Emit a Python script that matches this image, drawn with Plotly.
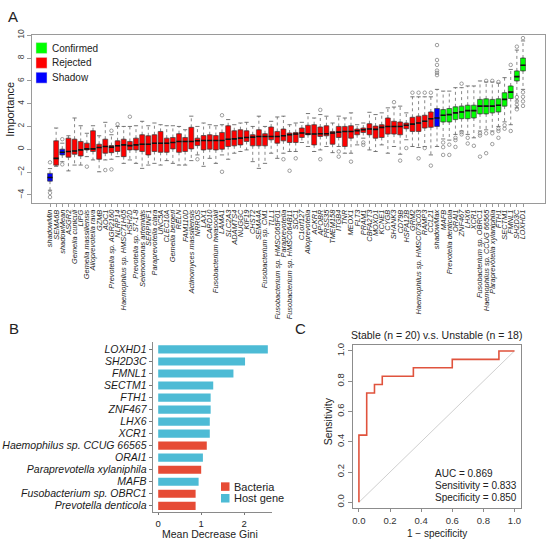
import plotly.graph_objects as go

# ---------- Panel A: Boruta importance boxplots ----------
features = [
    "shadowMin", "SEMA6B", "shadowMean", "ASGR2", "Gemella cuniculi", "LIPG",
    "Gemella massiliensis", "Alloprevotella rava", "GZMB", "AOC1",
    "Prevotella sp. AGR2160", "NLRP14", "Haemophilus sp. HMSC71H05", "HSH2D",
    "Prevotella sp. S7-1-8", "Selenomonas artemidis", "SERPINF1",
    "Paraprevotella clara", "UNC5A", "CLEC10A", "Gemella bergeri", "RELN",
    "FAM110D", "Actinomyces massiliensis", "NRROS", "LAX1", "CARD10",
    "Fusobacterium hwasookii", "LAMA1", "SLC2A3", "ADAMTS4", "NUGGC", "KIF19",
    "CHST2", "SEMA4A", "Fusobacterium sp. CM1", "TLL1",
    "Fusobacterium sp. HMSC065F01", "Paraprevotella",
    "Fusobacterium sp. HMSC064B11", "SDC1", "C1orf127", "Alloprevotella",
    "ACKR1", "APOBR", "PRSS35", "TMEM158", "ITGB4", "TNR", "MEOX1", "FLT3",
    "PRAM1", "CBFA2T3", "MOXD1", "KCNE1", "CYGB", "SHANK3", "CD79B", "HSPA12B",
    "GRM2", "Haemophilus sp. HMSC073C03", "RAMP3", "CCL21", "shadowMax", "MAFB",
    "Prevotella denticola", "ORAI1", "ZNF467", "LHX6", "XCR1",
    "Fusobacterium sp. OBRC1", "Haemophilus sp. CCUG 66565",
    "Paraprevotella xylaniphila", "FTH1", "SECTM1", "FMNL1", "SH2D3C", "LOXHD1",
]
q1 = [-2.8, -1.4, -0.5, -0.7, -0.44, -0.59, -0.06, -0.2, -0.88, -0.35,
      -0.3, -0.2, -0.65, -0.06, -0.06, -0.2, -0.5, -0.2, -0.27, -0.27,
      0.03, -0.27, -0.2, 0.03, 0.32, -0.06, 0.0, -0.06, 0.0, 0.24,
      0.3, 0.38, 0.68, 0.3, 0.3, 0.3, 0.83, 0.53, 0.74, 0.59,
      0.59, 1.03, 1.27, 0.38, 1.12, 1.18, 0.44, 1.03, 0.24, 0.97,
      1.27, 1.47, 1.27, 0.97, 1.03, 1.33, 1.33, 1.27, 1.8, 1.56,
      1.56, 1.86, 1.92, 2.0, 2.39, 2.39, 2.6, 2.68, 2.68, 2.74,
      3.1, 3.1, 3.19, 3.27, 3.78, 4.45, 5.99, 6.87]
median = [-2.48, -0.8, -0.27, -0.2, -0.15, -0.06, 0.03, 0.03, 0.15, 0.24,
          0.18, 0.3, 0.38, 0.32, 0.38, 0.44, 0.44, 0.53, 0.53, 0.53,
          0.59, 0.68, 0.68, 0.68, 0.74, 0.77, 0.77, 0.77, 0.77, 0.88,
          0.91, 0.97, 1.03, 1.06, 1.12, 1.12, 1.12, 1.12, 1.18, 1.27,
          1.33, 1.42, 1.33, 1.33, 1.36, 1.36, 1.42, 1.5, 1.56, 1.56,
          1.62, 1.71, 1.77, 1.74, 1.92, 2.0, 2.0, 2.0, 2.1, 2.2,
          2.3, 2.45, 2.68, 2.74, 2.98, 3.04, 3.19, 3.27, 3.39, 3.39,
          3.78, 3.78, 3.78, 3.86, 4.37, 5.01, 6.37, 7.37]
q3 = [-2.12, 0.74, 0.0, 0.97, 0.88, 0.68, 0.53, 1.62, 0.44, 0.88,
      0.32, 0.74, 0.88, 0.68, 0.97, 1.27, 1.18, 1.27, 1.56, 0.97,
      1.03, 1.36, 1.03, 1.92, 0.97, 1.2, 1.27, 1.2, 1.47, 2.06,
      1.62, 1.71, 1.62, 1.27, 1.71, 1.36, 1.95, 1.56, 1.77, 1.42,
      1.47, 1.86, 2.1, 2.15, 1.95, 2.06, 1.56, 2.0, 2.0, 2.06,
      1.77, 1.86, 2.24, 2.03, 2.15, 2.74, 2.45, 2.39, 2.3, 2.8,
      2.9, 2.98, 3.27, 3.57, 3.48, 3.57, 3.72, 3.78, 3.86, 3.86,
      4.37, 4.42, 4.37, 4.42, 4.96, 5.55, 6.87, 8.0]
whisk_lo = [-3.6, -1.5, -1.1, -1.9, -1.39, -1.39, -0.65, -0.94, -1.98, -0.94,
            -0.88, -0.65, -1.24, -0.94, -1.24, -1.68, -1.39, -1.24, -1.39, -1.0,
            -1.24, -1.39, -1.39, -1.0, -0.5, -1.5, -0.8, -1.24, -0.5, -0.88,
            -0.35, -0.2, -0.06, -1.09, -1.68, -1.24, -0.35, -0.8, -0.35, -0.2,
            -0.2, 0.59, 0.24, -0.2, -0.06, 0.24, -0.3, 0.24, -0.35, -0.35,
            0.38, 0.97, -0.06, -0.2, 0.38, -0.35, 0.24, -0.44, 0.83, 0.24,
            0.15, 0.24, -0.5, 0.24, 0.9, 0.8, 1.3, 1.6, 1.3, 1.0,
            1.6, 1.7, 1.6, 2.0, 2.4, 2.15, 3.63, 5.25]
whisk_hi = [-1.7, 1.86, 0.53, 1.18, 2.74, 2.06, 1.4, 2.06, 1.18, 2.36,
            1.27, 2.0, 2.0, 2.0, 2.06, 2.45, 2.06, 2.3, 2.15, 2.06,
            2.06, 2.0, 1.71, 2.9, 2.0, 2.3, 2.15, 2.06, 2.15, 2.6,
            2.15, 2.3, 2.36, 2.0, 2.9, 2.0, 2.45, 2.83, 2.9, 2.15,
            2.3, 2.36, 3.13, 2.74, 3.04, 2.9, 2.3, 2.9, 2.74, 3.19,
            2.15, 2.3, 3.24, 3.04, 3.19, 3.63, 3.7, 3.78, 3.19, 4.6,
            4.6, 4.6, 4.6, 5.25, 5.1, 5.1, 5.4, 5.4, 5.55, 5.55,
            5.99, 5.9, 5.9, 5.8, 6.28, 7.0, 8.7, 9.5]
status = (["Shadow", "Rejected", "Shadow"] + ["Rejected"] * 60
          + ["Shadow"] + ["Confirmed"] * 14)

# outlying points (feature position, importance)
out_pos = [1, 1, 1, 3, 3, 7, 10, 11, 11, 12, 14, 25, 29, 29, 39, 40, 41,
           45, 45, 48, 48, 50, 52, 52, 57, 58, 59, 60, 61, 61, 62, 62, 63, 63,
           64, 64, 64, 64, 64, 64, 65, 65, 65, 66, 66, 67, 67, 67, 68, 68, 68,
           69, 69, 70, 71, 71, 71, 72, 72, 72, 73, 73, 73, 74, 74, 74, 74,
           75, 75, 76, 76, 77, 77, 77, 77, 77, 78, 78, 78, 78, 78]
out_val = [-1.15, -3.83, -4.2, 0.88, -1.33, -1.53, -1.83, 1.62, -1.77, 2.2,
           2.85, -0.88, 2.98, -1.98, -0.88, -1.89, -0.8, 3.45, -0.88, -0.2,
           -0.65, -1.09, 0.59, 0.38, 4.13, -1.0, 0.1, 4.96, 4.96, -0.8, 4.96,
           0.1, 4.96, -1.44, 9.14, 7.83, 7.4, 6.9, 6.7, 6.5, 0.59, 0.18, -0.5,
           0.4, -0.5, 1.0, 0.8, 0.2, 5.75, 1.5, 1.3, 1.0, 0.5, 0.3, 1.2, 1.4,
           -0.65, 6.0, 1.4, -0.35, 6.0, 1.4, 0.45, 5.9, 1.8, 1.6, 1.0, 2.1,
           1.8, 7.4, 1.6, 9.0, 4.57, 4.22, 3.9, 3.5, 9.75, 5.0, 4.6, 4.2, 3.8]

status_colors = {"Confirmed": "#00FF00", "Rejected": "#FF0000", "Shadow": "#0000FF"}

# ---------- Panel B: random forest Mean Decrease Gini ----------
gini_names = ["LOXHD1", "SH2D3C", "FMNL1", "SECTM1", "FTH1", "ZNF467", "LHX6",
              "XCR1", "Haemophilus sp. CCUG 66565", "ORAI1",
              "Paraprevotella xylaniphila", "MAFB", "Fusobacterium sp. OBRC1",
              "Prevotella denticola"]
gini_vals = [2.55, 2.02, 1.75, 1.28, 1.22, 1.22, 1.2, 1.2, 1.13, 1.04, 1.0,
             0.94, 0.87, 0.87]
gini_type = ["Host gene"] * 8 + ["Bacteria", "Host gene", "Bacteria",
                                 "Host gene", "Bacteria", "Bacteria"]
type_colors = {"Bacteria": "#E64B35", "Host gene": "#4DBBD5"}

# ---------- Panel C: ROC curve ----------
roc_fpr = [0.0, 0.0, 0.05, 0.10, 0.15, 0.35, 0.60, 0.90, 1.0]
roc_tpr = [0.0, 0.444, 0.722, 0.778, 0.833, 0.889, 0.944, 1.0, 1.0]
roc_text = ["AUC = 0.869", "Sensitivity = 0.833", "Specificity = 0.850"]

W, H = 550, 540
FONT = "Liberation Sans, Arial, sans-serif"


def px(x):
    return x / W


def py(y):
    return 1 - y / H


fig = go.Figure()

positions = list(range(1, len(features) + 1))

# boxes, one trace per status group
for grp in ["Rejected", "Shadow", "Confirmed"]:
    idx = [i for i, s in enumerate(status) if s == grp]
    fig.add_trace(go.Box(
        x=[positions[i] for i in idx],
        q1=[q1[i] for i in idx],
        median=[median[i] for i in idx],
        q3=[q3[i] for i in idx],
        lowerfence=[q1[i] for i in idx],
        upperfence=[q3[i] for i in idx],
        width=0.8,
        fillcolor=status_colors[grp],
        line=dict(color="#3a3a3a", width=0.6),
        showlegend=False, hoverinfo="skip",
        xaxis="x", yaxis="y",
    ))

# dotted whiskers
wx, wy = [], []
for i, p in enumerate(positions):
    wx += [p, p, None, p, p, None]
    wy += [q3[i], whisk_hi[i], None, q1[i], whisk_lo[i], None]
fig.add_trace(go.Scatter(
    x=wx, y=wy, mode="lines",
    line=dict(color="#555555", width=0.7, dash="dot"),
    showlegend=False, hoverinfo="skip", xaxis="x", yaxis="y",
))
# whisker staples
fig.add_trace(go.Scatter(
    x=positions + positions, y=whisk_hi + whisk_lo, mode="markers",
    marker=dict(symbol="line-ew", size=3, line=dict(color="#555555", width=0.8)),
    showlegend=False, hoverinfo="skip", xaxis="x", yaxis="y",
))
# thick medians
fig.add_trace(go.Scatter(
    x=positions, y=median, mode="markers",
    marker=dict(symbol="line-ew", size=3.6, line=dict(color="#111111", width=1.6)),
    showlegend=False, hoverinfo="skip", xaxis="x", yaxis="y",
))
# outliers
fig.add_trace(go.Scatter(
    x=out_pos, y=out_val, mode="markers",
    marker=dict(symbol="circle-open", size=3.5, color="#777777",
                line=dict(width=0.7)),
    showlegend=False, hoverinfo="skip", xaxis="x", yaxis="y",
))

# Panel B bars
fig.add_trace(go.Bar(
    x=gini_vals, y=gini_names, orientation="h", width=0.68,
    marker=dict(color=[type_colors[t] for t in gini_type], line=dict(width=0)),
    showlegend=False, hoverinfo="skip", xaxis="x2", yaxis="y2",
))

# Panel C diagonal and ROC
fig.add_trace(go.Scatter(
    x=[0, 1], y=[0, 1], mode="lines", line=dict(color="#cfcfcf", width=1),
    showlegend=False, hoverinfo="skip", xaxis="x3", yaxis="y3",
))
fig.add_trace(go.Scatter(
    x=roc_fpr, y=roc_tpr, mode="lines", line=dict(color="#E0533D", width=1.6, shape="hv"),
    showlegend=False, hoverinfo="skip", xaxis="x3", yaxis="y3",
))

frame_a = "#9a9a9a"
frame_c = "#8c8c8c"

fig.update_layout(
    width=W, height=H,
    margin=dict(l=0, r=0, t=0, b=0),
    paper_bgcolor="white", plot_bgcolor="white",
    font=dict(family=FONT, color="#222222"),
    boxmode="overlay",
    xaxis=dict(
        domain=[px(32), px(545)], range=[-1.93, 81.58],
        tickmode="array", tickvals=positions, ticktext=features,
        tickangle=-90, tickfont=dict(size=7.4, style="italic", color="#222222"),
        ticks="outside", ticklen=3, tickcolor=frame_a, tickwidth=0.7,
        showline=True, mirror=True, linecolor=frame_a, linewidth=1,
        showgrid=False, zeroline=False,
    ),
    yaxis=dict(
        domain=[py(199), py(29)], range=[-4.7, 10.05],
        tickmode="array", tickvals=[-4, -2, 0, 2, 4, 6, 8, 10],
        tickangle=-90, tickfont=dict(size=8.5, color="#444444"),
        ticks="outside", ticklen=4, tickcolor=frame_a,
        showline=True, mirror=True, linecolor=frame_a, linewidth=1,
        showgrid=False, zeroline=False,
    ),
    xaxis2=dict(
        domain=[px(152.7), px(271.7)], range=[-0.128, 2.64],
        tickmode="array", tickvals=[0, 1, 2],
        tickfont=dict(size=9.5, color="#222222"),
        ticks="outside", ticklen=2, tickcolor="#777777",
        showline=True, linecolor="#8a8a8a", linewidth=1.2,
        showgrid=False, zeroline=False, anchor="y2",
    ),
    yaxis2=dict(
        domain=[py(512), py(340)], range=[13.54, -0.6],
        type="category", categoryorder="array", categoryarray=gini_names,
        tickmode="array", tickvals=gini_names, ticktext=gini_names,
        tickfont=dict(size=10.5, style="italic", color="#1a1a1a"),
        ticks="outside", ticklen=3, tickcolor="#777777",
        showline=True, linecolor="#8a8a8a", linewidth=1.2,
        showgrid=False, zeroline=False, anchor="x2",
    ),
    xaxis3=dict(
        domain=[px(352.7), px(520.7)], range=[-0.04, 1.04],
        tickmode="array", tickvals=[0, 0.2, 0.4, 0.6, 0.8, 1.0],
        tickformat=".1f", tickfont=dict(size=9.5, color="#333333"),
        ticks="outside", ticklen=3, tickcolor=frame_c,
        showline=True, mirror=True, linecolor=frame_c, linewidth=1,
        showgrid=False, zeroline=False, anchor="y3",
    ),
    yaxis3=dict(
        domain=[py(508), py(342.7)], range=[-0.04, 1.04],
        tickmode="array", tickvals=[0, 0.2, 0.4, 0.6, 0.8, 1.0],
        tickformat=".1f", tickangle=-90, tickfont=dict(size=9.5, color="#333333"),
        ticks="outside", ticklen=4, tickcolor=frame_c,
        showline=True, mirror=True, linecolor=frame_c, linewidth=1,
        showgrid=False, zeroline=False, anchor="x3",
    ),
)

ann = []
shapes = []


def text(x, y, s, size, xanchor="center", angle=0, color="#222222"):
    ann.append(dict(x=px(x), y=py(y), xref="paper", yref="paper", text=s,
                    showarrow=False, xanchor=xanchor, yanchor="middle",
                    textangle=angle, font=dict(size=size, color=color, family=FONT)))


# panel letters
text(13, 11, "A", 15)
text(14, 326, "B", 15)
text(300, 326, "C", 15)

# panel A legend
for lab, yc in [("Confirmed", 42.5), ("Rejected", 57.5), ("Shadow", 72.5)]:
    shapes.append(dict(type="rect", xref="paper", yref="paper",
                       x0=px(36), x1=px(47), y0=py(yc + 5.5), y1=py(yc - 5.5),
                       fillcolor=status_colors[lab], line=dict(color="#dddddd", width=0.5)))
    text(50, yc, lab, 10, xanchor="left")
text(10, 105, "Importance", 11, angle=-90)

# panel B legend + axis title
for lab, yc in [("Bacteria", 486), ("Host gene", 497.8)]:
    shapes.append(dict(type="rect", xref="paper", yref="paper",
                       x0=px(221), x1=px(229.5), y0=py(yc + 4.3), y1=py(yc - 4.3),
                       fillcolor=type_colors[lab], line=dict(width=0)))
    text(232, yc, lab, 11, xanchor="left")
text(210, 534, "Mean Decrease Gini", 10.5)

# panel C titles and stats
text(436.7, 332.5, "Stable (n = 20) v.s. Unstable (n = 18)", 10.5)
text(436.7, 533.5, "1 \u2212 specificity", 10)
text(328, 420, "Sensitivity", 10.5, angle=-90)
for s, yc in zip(roc_text, [472.7, 485, 496.7]):
    text(433.3, yc, s, 10, xanchor="left")

fig.update_layout(annotations=ann, shapes=shapes)

# drop the default page margin so the figure sits at the window's corner
fig.write_html("out.html", config={"displayModeBar": False},
               post_script="document.body.style.margin='0';document.body.style.padding='0';")
